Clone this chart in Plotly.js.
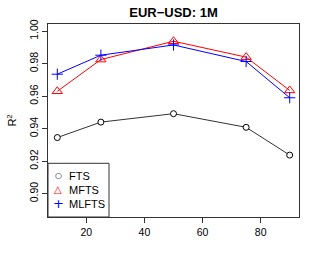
<!DOCTYPE html>
<html>
<head>
<meta charset="utf-8">
<script src="https://cdn.plot.ly/plotly-3.0.1.min.js"></script>
<style>html,body{margin:0;padding:0;background:#fff;}#chart{width:313px;height:261px;}</style>
</head>
<body>
<div id="chart"></div>
<script>
var horizons = [10, 25, 50, 75, 90];
var fts   = [0.9345, 0.9440, 0.9492, 0.9408, 0.9237];
var mfts  = [0.9630, 0.9825, 0.9938, 0.9840, 0.9635];
var mlfts = [0.9735, 0.9852, 0.9915, 0.9813, 0.9590];
var seriesNames = ['FTS', 'MFTS', 'MLFTS'];
var legendGlyphs = ['\u25CB', '\u25B3', '+'];
var xTicks = [20, 40, 60, 80];
var yTicks = [0.90, 0.92, 0.94, 0.96, 0.98, 1.00];
var yTickText = ['0.90', '0.92', '0.94', '0.96', '0.98', '1.00'];

var font = 'Liberation Sans, Arial, Helvetica, sans-serif';
var specs = [
  {y: fts,   color: '#000000', lineColor: '#333333', symbol: 'circle', size: 6, fill: '#ffffff', lw: 1, gsize: 8},
  {y: mfts,  color: '#ff0000', lineColor: '#ff0000', symbol: 'triangle-up-open', size: 9, fill: '#ff0000', lw: 1, gsize: 10},
  {y: mlfts, color: '#0000ff', lineColor: '#0000ff', symbol: 'cross-thin-open', size: 8, fill: '#0000ff', lw: 1, gsize: 13}
];

var traces = [];
specs.forEach(function (s, i) {
  traces.push({
    x: horizons, y: s.y, type: 'scatter', mode: 'lines+markers',
    name: seriesNames[i], showlegend: false,
    line: {color: s.lineColor, width: 1},
    marker: {symbol: s.symbol, size: s.size, color: s.fill,
             line: {color: s.color, width: s.lw}},
    cliponaxis: false
  });
});

// hand-built legend box (R style: symbols only)
var plotW = 313 - 48 - 14, plotH = 261 - 24 - 44;
var legRowsPx = [175.5, 189.5, 203.5];
var annotations = [];
seriesNames.forEach(function (nm, i) {
  var yp = (217 - legRowsPx[i]) / plotH;
  annotations.push({
    xref: 'paper', yref: 'paper', x: 10 / plotW, y: yp,
    xanchor: 'center', yanchor: 'middle', showarrow: false,
    text: legendGlyphs[i],
    font: {family: 'DejaVu Sans, sans-serif', size: specs[i].gsize, color: specs[i].color}
  });
  annotations.push({
    xref: 'paper', yref: 'paper', x: 19 / plotW, y: yp,
    xanchor: 'left', yanchor: 'middle', showarrow: false,
    text: nm,
    font: {family: font, size: 11, color: '#000'}
  });
});

var layout = {
  width: 313, height: 261,
  margin: {l: 48, r: 14, t: 24, b: 44, pad: 0},
  paper_bgcolor: '#ffffff', plot_bgcolor: '#ffffff',
  font: {family: font, size: 10, color: '#000000'},
  title: {
    text: '<b>EUR\u2212USD: 1M</b>',
    font: {family: font, size: 13, color: '#000000'},
    x: 0.5, xref: 'paper', xanchor: 'center',
    y: 1 - 12.5 / 261, yref: 'container', yanchor: 'middle'
  },
  xaxis: {
    range: [6.8, 93.2], tickvals: xTicks, ticktext: xTicks.map(String),
    ticks: 'outside', ticklen: 5, tickwidth: 1, tickcolor: '#333',
    showgrid: false, zeroline: false,
    showline: true, mirror: true, linecolor: '#333', linewidth: 1,
    tickfont: {family: font, size: 10.5, color: '#000'}
  },
  yaxis: {
    range: [0.8856, 1.0044], tickvals: yTicks, ticktext: yTickText,
    ticks: 'outside', ticklen: 5, tickwidth: 1, tickcolor: '#333',
    tickangle: -90,
    showgrid: false, zeroline: false,
    showline: true, mirror: true, linecolor: '#333', linewidth: 1,
    tickfont: {family: font, size: 10.5, color: '#000'},
    title: {text: 'R<sup>2</sup>', font: {family: font, size: 11, color: '#000'}, standoff: 8}
  },
  shapes: [{
    type: 'rect', xref: 'paper', yref: 'paper',
    x0: 0, x1: (109 - 48) / plotW, y0: 0, y1: (217 - 163.3) / plotH,
    line: {color: '#333', width: 1}, fillcolor: '#ffffff', layer: 'above'
  }],
  annotations: annotations,
  showlegend: false
};

Plotly.newPlot('chart', traces, layout, {displayModeBar: false, staticPlot: true});
</script>
</body>
</html>
